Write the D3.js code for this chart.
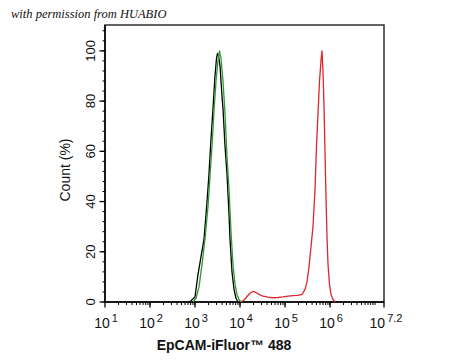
<!DOCTYPE html>
<html>
<head>
<meta charset="utf-8">
<script src="https://cdn.jsdelivr.net/npm/d3@7"></script>
<style>
  html, body { margin: 0; padding: 0; background: #fff; }
  svg { display: block; }
</style>
</head>
<body>
<svg id="chart" width="450" height="360"></svg>
<script>
// ---- data (x values are log10 of fluorescence, y values are Count %) ----
const blackLog = [2.844, 2.911, 3.0, 3.067, 3.133, 3.2, 3.267, 3.311, 3.356, 3.4, 3.444, 3.478, 3.5, 3.522, 3.556, 3.6, 3.622, 3.667, 3.711, 3.756, 3.778, 3.822, 3.867, 3.911, 3.956];
const blackCount = [0, 0.5, 2, 11, 18, 25, 40, 51, 65, 77, 90, 97, 99, 98, 94, 82, 77, 62, 51, 35, 25, 12, 5, 1.5, 0];

const greenLog = [2.956, 3.022, 3.089, 3.156, 3.222, 3.289, 3.333, 3.378, 3.422, 3.467, 3.511, 3.544, 3.578, 3.622, 3.667, 3.711, 3.756, 3.8, 3.844, 3.889, 3.933, 3.978, 4.022];
const greenCount = [0, 1.5, 6, 15, 25, 38, 50, 62, 76, 88, 96, 100, 97, 88, 75, 58, 45, 28, 15, 7, 3, 1, 0];

const redLog = [4.022, 4.089, 4.156, 4.222, 4.289, 4.356, 4.422, 4.511, 4.622, 4.733, 4.844, 4.956, 5.067, 5.178, 5.289, 5.378, 5.444, 5.489, 5.533, 5.578, 5.622, 5.667, 5.7, 5.733, 5.767, 5.8, 5.822, 5.844, 5.867, 5.889, 5.911, 5.933, 5.956, 5.989, 6.022, 6.067, 6.111];
const redCount = [0, 0.8, 2.2, 3.5, 4.2, 3.8, 3.0, 2.3, 1.9, 1.7, 1.8, 2.0, 2.3, 2.5, 2.6, 3.0, 5, 8, 14, 22, 30, 45, 62, 75, 88, 96, 100, 92, 78, 60, 42, 26, 15, 7, 3, 1, 0];

const xTickExps = [1, 2, 3, 4, 5, 6, 7.2];
const yTicks = [0, 20, 40, 60, 80, 100];
const xLabel = "EpCAM-iFluor™ 488";
const yLabel = "Count  (%)";
const watermark = "with permission from HUABIO";

// ---- layout ----
const svg = d3.select("#chart");
const mLeft = 105, mRight = 384, mTop = 25, mBottom = 302;
const x = d3.scaleLog().domain([10, Math.pow(10, 7.2)]).range([mLeft, mRight]);
const y = d3.scaleLinear().domain([0, 110.3]).range([mBottom, mTop]);
const font = "Liberation Sans, Arial, Helvetica, sans-serif";

// watermark
svg.append("text")
  .attr("x", 11).attr("y", 18)
  .attr("font-family", "Liberation Serif, DejaVu Serif, serif")
  .attr("font-style", "italic")
  .attr("font-size", 12.5)
  .attr("fill", "#111")
  .text(watermark);

// frame
svg.append("rect")
  .attr("x", mLeft).attr("y", mTop)
  .attr("width", mRight - mLeft).attr("height", mBottom - mTop)
  .attr("fill", "none").attr("stroke", "#222").attr("stroke-width", 1.4);

// x minor ticks
const xMinor = [];
for (let d = 1; d <= 6; d++) {
  for (let m = 2; m <= 10; m++) {
    const v = m * Math.pow(10, d);
    if (v <= Math.pow(10, 7.2)) xMinor.push(v);
  }
}
svg.append("g").selectAll("line").data(xMinor).join("line")
  .attr("x1", d => x(d)).attr("x2", d => x(d))
  .attr("y1", mBottom).attr("y2", mBottom + 3)
  .attr("stroke", "#000").attr("stroke-width", 1);

// x major ticks + labels
const xg = svg.append("g");
xg.selectAll("line").data(xTickExps).join("line")
  .attr("x1", d => x(Math.pow(10, d))).attr("x2", d => x(Math.pow(10, d)))
  .attr("y1", mBottom).attr("y2", mBottom + 5.5)
  .attr("stroke", "#000").attr("stroke-width", 1.3);
const xt = xg.selectAll("text").data(xTickExps).join("text")
  .attr("x", d => x(Math.pow(10, d)) + (d === 7.2 ? 2 : 1))
  .attr("y", 328)
  .attr("text-anchor", "middle")
  .attr("font-family", font)
  .attr("font-size", 14)
  .attr("fill", "#111");
xt.append("tspan").text("10");
xt.append("tspan")
  .attr("dy", -6).attr("dx", 2)
  .attr("font-size", 11)
  .text(d => String(d));

// y minor ticks
const yMinor = d3.range(0, 110, 4);
svg.append("g").selectAll("line").data(yMinor).join("line")
  .attr("x1", mLeft - 2.5).attr("x2", mLeft)
  .attr("y1", d => y(d)).attr("y2", d => y(d))
  .attr("stroke", "#000").attr("stroke-width", 1);

// y major ticks + labels
const yg = svg.append("g");
yg.selectAll("line").data(yTicks).join("line")
  .attr("x1", mLeft - 5.5).attr("x2", mLeft)
  .attr("y1", d => y(d)).attr("y2", d => y(d))
  .attr("stroke", "#000").attr("stroke-width", 1.3);
yg.selectAll("text").data(yTicks).join("text")
  .attr("transform", d => `translate(95,${y(d)}) rotate(-90)`)
  .attr("text-anchor", "middle")
  .attr("font-family", font)
  .attr("font-size", 13)
  .attr("fill", "#111")
  .text(d => d);

// axis lines
svg.append("line").attr("x1", mLeft).attr("x2", mRight).attr("y1", mBottom).attr("y2", mBottom)
  .attr("stroke", "#000").attr("stroke-width", 1.5);
svg.append("line").attr("x1", mLeft).attr("x2", mLeft).attr("y1", mTop).attr("y2", mBottom)
  .attr("stroke", "#000").attr("stroke-width", 1.5);

// axis titles
svg.append("text")
  .attr("x", 224).attr("y", 350)
  .attr("text-anchor", "middle")
  .attr("font-family", font)
  .attr("font-size", 14)
  .attr("font-weight", "bold")
  .attr("fill", "#111")
  .text(xLabel);
svg.append("text")
  .attr("transform", "translate(70,170) rotate(-90)")
  .attr("text-anchor", "middle")
  .attr("font-family", font)
  .attr("font-size", 14)
  .attr("fill", "#111")
  .text(yLabel);

// curves
const line = d3.line()
  .x(d => x(Math.pow(10, d[0])))
  .y(d => y(d[1]));
const series = [
  { xs: redLog, ys: redCount, color: "#e0252b" },
  { xs: blackLog, ys: blackCount, color: "#000000" },
  { xs: greenLog, ys: greenCount, color: "#2f9a35" }
];
series.forEach(s => {
  svg.append("path")
    .datum(d3.zip(s.xs, s.ys))
    .attr("d", line)
    .attr("fill", "none")
    .attr("stroke", s.color)
    .attr("stroke-width", 1.3)
    .attr("stroke-linejoin", "round");
});
</script>
</body>
</html>
